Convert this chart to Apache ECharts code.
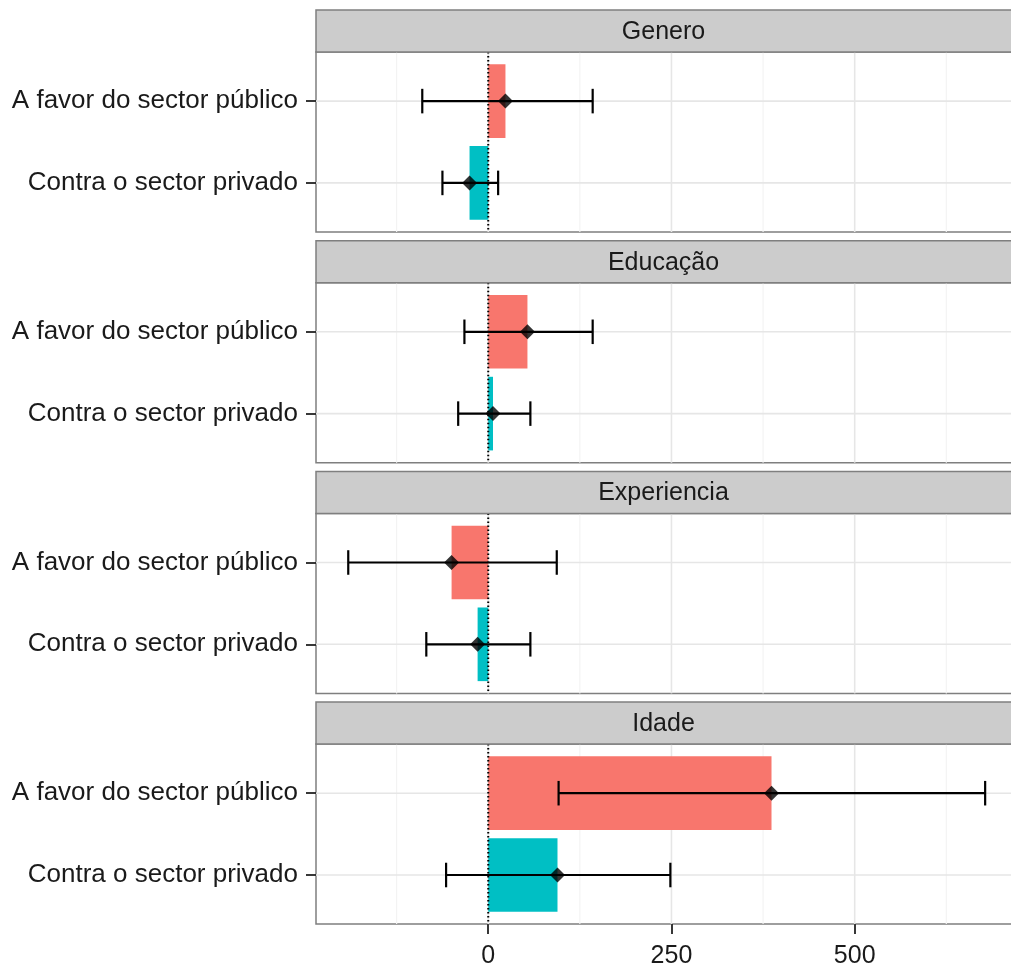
<!DOCTYPE html>
<html>
<head>
<meta charset="utf-8">
<title>Efeitos por factor</title>
<script src="https://cdn.jsdelivr.net/npm/echarts@6/dist/echarts.min.js"></script>
<style>
  html, body { margin: 0; padding: 0; background: #fff; }
  #chart { width: 1011px; height: 966px; }
</style>
</head>
<body>
<div id="chart"></div>
<script>
(function(){
  'use strict';

  // data
  var panels = ['Genero', 'Educação', 'Experiencia', 'Idade'];
  var categories = ['A favor do sector público', 'Contra o sector privado'];
  var favorEstimate = [23.5, 53.5, -50, 386.5];
  var favorLower = [-90, -32.5, -191, 96];
  var favorUpper = [142.5, 142.5, 93.5, 678];
  var contraEstimate = [-25.5, 6.5, -14.5, 94.5];
  var contraLower = [-62.5, -41, -84.5, -57.5];
  var contraUpper = [13.5, 57.5, 57.5, 248.5];
  var xTicks = [0, 250, 500];
  var xMinor = [-125, 125, 375, 625];

  var FONT = '"Liberation Sans", Arial, sans-serif';
  var TEXT = '#1a1a1a';
  var PANEL_LEFT = 316, STRIP_H = 42, PLOT_H = 180, STEP = 230.7, FIRST_TOP = 10;
  var X_MIN = -235, X_MAX = 716;
  var barColors = ['#F8766D', '#00BFC4'];

  function renderVLine(params, api){
    var v = api.value(0);
    var a = api.coord([v, 0.4]), b = api.coord([v, 2.6]);
    var major = api.value(1) === 1;
    return { type: 'line', shape: { x1: a[0], y1: a[1], x2: b[0], y2: b[1] },
      style: { stroke: major ? '#e6e6e6' : '#f3f3f3', lineWidth: major ? 1.6 : 1.2 } };
  }
  function renderHLine(params, api){
    var v = api.value(0);
    var a = api.coord([X_MIN, v]), b = api.coord([X_MAX, v]);
    return { type: 'line', shape: { x1: a[0], y1: a[1], x2: b[0], y2: b[1] },
      style: { stroke: '#e6e6e6', lineWidth: 1.6 } };
  }
  function renderZero(params, api){
    var a = api.coord([api.value(0), 0.4]), b = api.coord([api.value(0), 2.6]);
    return { type: 'line', shape: { x1: a[0], y1: a[1], x2: b[0], y2: b[1] },
      style: { stroke: '#000', lineWidth: 2, lineDash: [1.5, 2.5] } };
  }
  function renderBar(params, api){
    var y = api.value(0), v = api.value(1);
    var a = api.coord([0, y]), b = api.coord([v, y]);
    var h = api.size([0, 0.9])[1];
    return { type: 'rect',
      shape: { x: Math.min(a[0], b[0]), y: a[1] - h / 2, width: Math.abs(b[0] - a[0]), height: h },
      style: { fill: barColors[Math.round(y) - 1] } };
  }
  function renderErrorBar(params, api){
    var y = api.value(0);
    var lo = api.coord([api.value(1), y]), hi = api.coord([api.value(2), y]);
    var cap = api.size([0, 0.15])[1];
    var st = { stroke: '#000', lineWidth: 2.2 };
    return { type: 'group', children: [
      { type: 'line', shape: { x1: lo[0], y1: lo[1], x2: hi[0], y2: hi[1] }, style: st },
      { type: 'line', shape: { x1: lo[0], y1: lo[1] - cap, x2: lo[0], y2: lo[1] + cap }, style: st },
      { type: 'line', shape: { x1: hi[0], y1: hi[1] - cap, x2: hi[0], y2: hi[1] + cap }, style: st }
    ] };
  }

  var grids = [], xAxes = [], yAxes = [], series = [], graphics = [];
  var vLines = xTicks.map(function(v){ return [v, 1]; }).concat(xMinor.map(function(v){ return [v, 0]; }));

  panels.forEach(function(name, i){
    var last = i === panels.length - 1;
    var stripTop = FIRST_TOP + i * STEP;
    var top = stripTop + STRIP_H;
    grids.push({ left: PANEL_LEFT, right: -2, top: top, height: PLOT_H, show: true,
      backgroundColor: '#fff', borderColor: '#7f7f7f', borderWidth: 1.5, outerBoundsMode: 'none' });
    xAxes.push({ type: 'value', gridIndex: i, min: X_MIN, max: X_MAX, position: 'bottom',
      axisLine: { show: false, onZero: false }, splitLine: { show: false },
      axisTick: { show: last, inside: false, customValues: xTicks, length: 10, lineStyle: { color: '#222', width: 1.8 } },
      axisLabel: { show: last, customValues: xTicks, fontSize: 25, color: TEXT, fontFamily: FONT, margin: 20 } });
    yAxes.push({ type: 'value', gridIndex: i, min: 0.4, max: 2.6, inverse: true, position: 'left',
      axisLine: { show: false, onZero: false }, splitLine: { show: false },
      axisTick: { show: true, inside: false, customValues: [1, 2], length: 10, lineStyle: { color: '#222', width: 1.8 } },
      axisLabel: { customValues: [1, 2], fontSize: 26, color: TEXT, fontFamily: FONT, margin: 18,
        formatter: function(v){ return categories[Math.round(v) - 1]; } } });

    series.push({ type: 'custom', name: 'vgrid', xAxisIndex: i, yAxisIndex: i, z: 1, silent: true,
      renderItem: renderVLine, data: vLines, encode: { x: 0 } });
    series.push({ type: 'custom', name: 'hgrid', xAxisIndex: i, yAxisIndex: i, z: 1, silent: true,
      renderItem: renderHLine, data: [[1], [2]], encode: { y: 0 } });
    series.push({ type: 'custom', name: 'bars', xAxisIndex: i, yAxisIndex: i, z: 2,
      renderItem: renderBar, encode: { y: 0, x: 1 },
      data: [[1, favorEstimate[i]], [2, contraEstimate[i]]] });
    series.push({ type: 'custom', name: 'zero', xAxisIndex: i, yAxisIndex: i, z: 3, silent: true,
      renderItem: renderZero, data: [[0]], encode: { x: 0 } });
    series.push({ type: 'custom', name: 'ci', xAxisIndex: i, yAxisIndex: i, z: 4,
      renderItem: renderErrorBar, encode: { y: 0, x: [1, 2] },
      data: [[1, favorLower[i], favorUpper[i]], [2, contraLower[i], contraUpper[i]]] });
    series.push({ type: 'scatter', name: 'estimate', xAxisIndex: i, yAxisIndex: i, z: 5,
      symbol: 'diamond', symbolSize: [15, 15], itemStyle: { color: '#000' },
      data: [[favorEstimate[i], 1], [contraEstimate[i], 2]] });

    graphics.push({ type: 'rect', z: 10,
      shape: { x: PANEL_LEFT, y: stripTop, width: 720, height: STRIP_H },
      style: { fill: '#cccccc', stroke: '#7f7f7f', lineWidth: 1.5 } });
    graphics.push({ type: 'text', z: 11, x: (PANEL_LEFT + 1011) / 2, y: stripTop + STRIP_H / 2 + 1,
      style: { text: name, fontSize: 25, fontFamily: FONT, fill: TEXT,
        align: 'center', verticalAlign: 'middle', textAlign: 'center', textVerticalAlign: 'middle' } });
  });

  var chart = echarts.init(document.getElementById('chart'), null, { renderer: 'canvas' });
  chart.setOption({
    animation: false,
    backgroundColor: '#fff',
    grid: grids,
    xAxis: xAxes,
    yAxis: yAxes,
    series: series,
    graphic: graphics
  });
})();
</script>
</body>
</html>
